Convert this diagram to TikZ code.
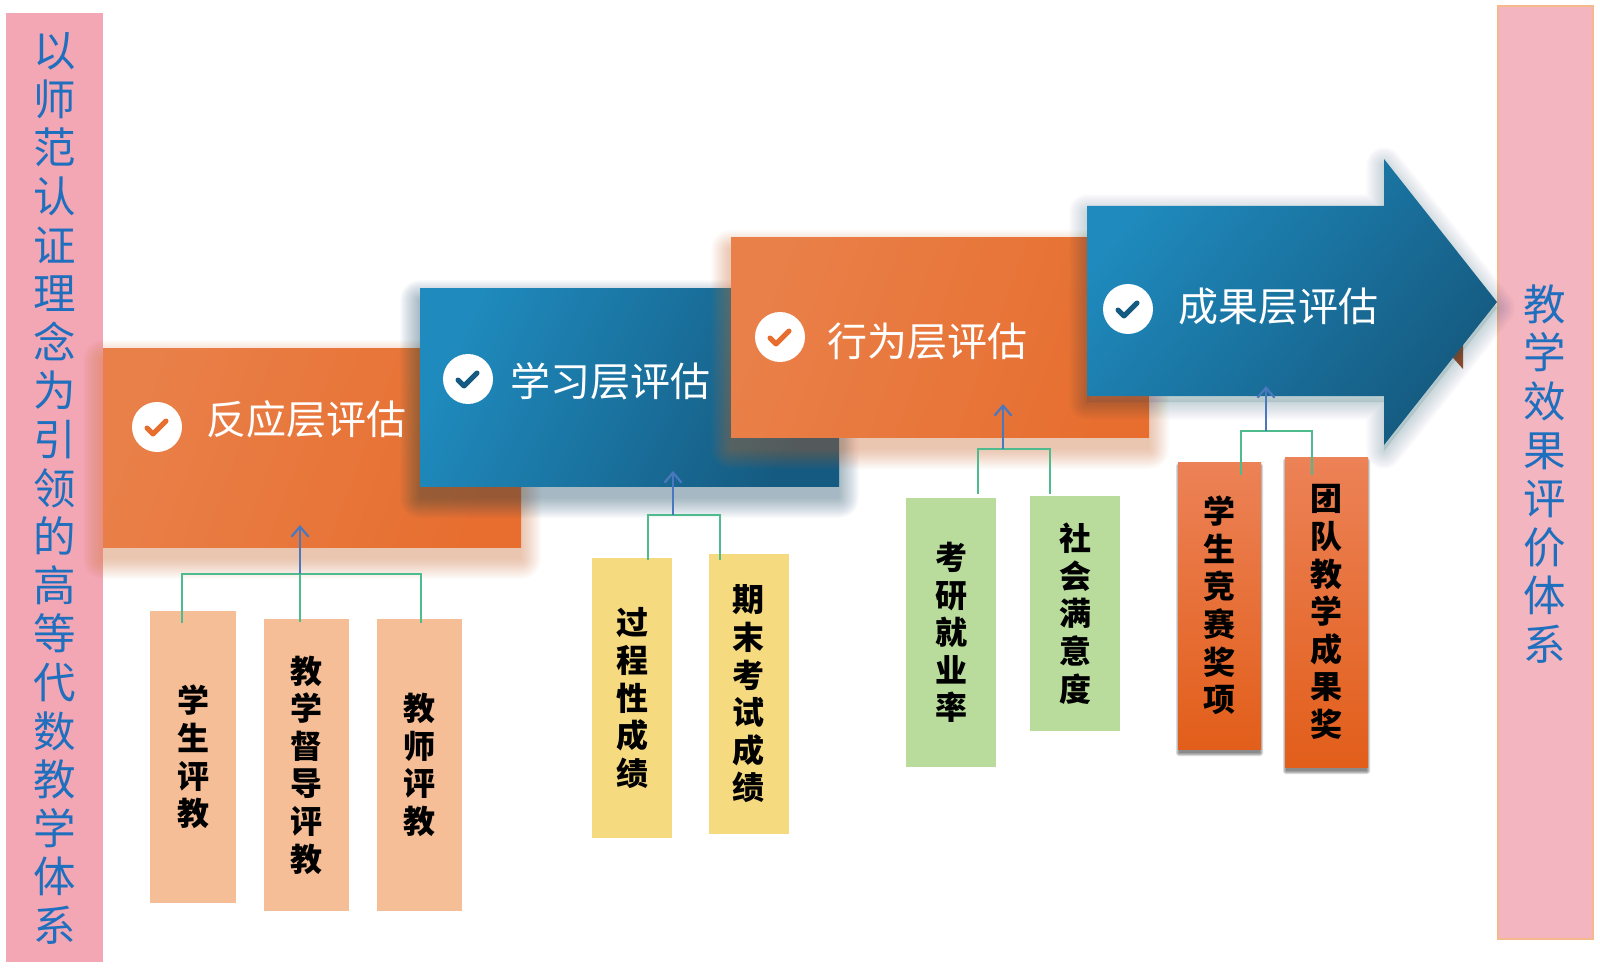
\documentclass[tikz,border=0pt]{standalone}
\usepackage{fontspec}
\setmainfont{Noto Sans CJK SC}
\usetikzlibrary{arrows.meta}
\definecolor{orA}{HTML}{E98049}
\definecolor{orB}{HTML}{E76E2F}
\definecolor{blA}{HTML}{1F8ABD}
\definecolor{blB}{HTML}{155A80}
\definecolor{txtblue}{HTML}{1F6FBF}
\definecolor{linkgreen}{HTML}{4DBB8E}
\definecolor{linkblue}{HTML}{4A78BE}
\definecolor{peach}{HTML}{F5BE96}
\definecolor{sand}{HTML}{F6DA80}
\definecolor{leaf}{HTML}{B9DC9C}
\definecolor{pinkL}{HTML}{F3A6B3}
\definecolor{pinkR}{HTML}{F3B5C0}
\definecolor{pinkE}{HTML}{F6B98C}
\definecolor{brownbit}{HTML}{A0522D}
\definecolor{awardA}{HTML}{EC8257}
\definecolor{awardM}{HTML}{EF6B26}
\definecolor{awardB}{HTML}{E25E1A}
\tikzset{
  stage/.style={minimum width=#1,inner sep=0pt,outer sep=0pt,draw=none},
  orangestage/.style={left color=orA,right color=orB,shading angle=70},
  bluestage/.style={left color=blA,right color=blB,shading angle=65},
  stagetext/.style={text=white,font=\fontsize{40}{40}\selectfont,inner sep=0pt},
  tick/.style={circle,fill=white,minimum size=50pt,inner sep=0pt},
  leafbox/.style={minimum width=#1,inner sep=0pt,outer sep=0pt,align=center,
     font=\bfseries\fontsize{32}{37.6}\selectfont,text=black},
  sidetext/.style={text=txtblue,align=center,inner sep=0pt,
     font=\fontsize{42.5}{48.6}\selectfont},
  bracket/.style={draw=linkgreen,line width=2pt},
  riser/.style={draw=linkblue,line width=2.2pt,-{Straight Barb[length=10pt,width=17pt,line width=2.2pt]}},
}
% soft shadow of a rectangle: x1,y1,x2,y2,colour,offset,maxgrow,opacity
\newcommand{\softrect}[8]{%
  \foreach \k in {0,...,#7}{%
    \fill[#5,opacity=#8,rounded corners=\k pt]
      (#1-\k,#2+#6-\k) rectangle (#3+\k,#4+#6+\k);}}
\newcommand{\checkmk}[2]{%
  \draw[#2,line width=5pt,line cap=round,line join=round]
    ([shift={(-10,1)}]#1.center) -- ++(6,6) -- ++(13,-13);}
\begin{document}
\begin{tikzpicture}[x=1pt,y=-1pt]
\useasboundingbox (0,0) rectangle (1600,968);
\fill[white] (0,0) rectangle (1600,968);

% side columns
\node[fill=pinkL,minimum width=97pt,minimum height=949pt,inner sep=0pt] (leftcol) at (54.5,487.5) {};
\node[fill=pinkR,draw=pinkE,line width=2pt,minimum width=95pt,minimum height=932pt,inner sep=0pt] (rightcol) at (1545,472.5) {};
\node[sidetext] (lefttext) at (54.5,488.5) {以\\师\\范\\认\\证\\理\\念\\为\\引\\领\\的\\高\\等\\代\\数\\教\\学\\体\\系};
\node[sidetext] (righttext) at (1545,474) {教\\学\\效\\果\\评\\价\\体\\系};

% stage 1
\softrect{103}{348}{521}{547}{orB}{12}{20}{0.018}
\node[stage=418pt,minimum height=199pt,orangestage] (box1) at (312,447.5) {};
\node[tick] (c1) at (157,427) {};
\checkmk{c1}{orB}
\node[stagetext] (t1) at (306,419) {反应层评估};

% stage 2
\softrect{420}{288}{839}{486}{blB!80!black}{12}{20}{0.018}
\node[stage=419pt,minimum height=198pt,bluestage] (box2) at (629.5,387) {};
\node[tick] (c2) at (468,379) {};
\checkmk{c2}{blB}
\node[stagetext] (t2) at (610,381) {学习层评估};

% stage 3
\softrect{731}{238}{1149}{437}{orB}{12}{20}{0.018}
\node[stage=418pt,minimum height=199pt,orangestage] (box3) at (940,337.5) {};
\node[tick] (c3) at (780,337) {};
\checkmk{c3}{orB}
\node[stagetext] (t3) at (927,341) {行为层评估};

% small brown sliver behind arrow head
\fill[brownbit] (1463,342) -- (1463,369) -- (1446,350) -- cycle;

% stage 4 arrow
\fill[blB!80!black,opacity=0.12]
   (1087,206+6) -- (1384,206+6) -- (1384,159+6) -- (1497,302+6) -- (1384,445+6) -- (1384,396+6) -- (1087,396+6) -- cycle;
\foreach \w in {2,4,...,36}{%
  \draw[blB!80!black,line width=\w pt,opacity=0.012,line join=round]
   (1087,206+6) -- (1384,206+6) -- (1384,159+6) -- (1497,302+6) -- (1384,445+6) -- (1384,396+6) -- (1087,396+6) -- cycle;}
\shade[left color=blA,right color=blB,shading angle=50]
   (1087,206) -- (1384,206) -- (1384,159) -- (1497,302) -- (1384,445) -- (1384,396) -- (1087,396) -- cycle;
\node[tick] (c4) at (1128,309) {};
\checkmk{c4}{blB}
\node[stagetext] (t4) at (1278,306) {成果层评估};

% leaf boxes group 1
\node[leafbox=86pt,minimum height=292pt,fill=peach] (a1) at (193,757) {学\\生\\评\\教};
\node[leafbox=85pt,minimum height=292pt,fill=peach] (a2) at (306.5,765) {教\\学\\督\\导\\评\\教};
\node[leafbox=85pt,minimum height=292pt,fill=peach] (a3) at (419.5,765) {教\\师\\评\\教};
% group 2
\node[leafbox=80pt,minimum height=280pt,fill=sand] (b1) at (632,698) {过\\程\\性\\成\\绩};
\node[leafbox=80pt,minimum height=280pt,fill=sand] (b2) at (748.5,694) {期\\末\\考\\试\\成\\绩};
% group 3
\node[leafbox=90pt,minimum height=269pt,fill=leaf] (d1) at (951,632.5) {考\\研\\就\\业\\率};
\node[leafbox=90pt,minimum height=235pt,fill=leaf] (d2) at (1075,613.5) {社\\会\\满\\意\\度};
% group 4
\softrect{1179}{462}{1260}{749}{black}{4}{3}{0.14}
\softrect{1286}{457}{1367}{767}{black}{4}{3}{0.14}
\node[leafbox=83pt,minimum height=287pt,top color=awardA,middle color=awardM,bottom color=awardB] (e1) at (1219.5,605.5) {学\\生\\竞\\赛\\奖\\项};
\node[leafbox=83pt,minimum height=310pt,top color=awardA,middle color=awardM,bottom color=awardB] (e2) at (1326.5,612) {团\\队\\教\\学\\成\\果\\奖};

% connectors
\coordinate (ja) at (300,574); \coordinate (ta) at (300,525);
\coordinate (a1e) at (182,623); \coordinate (a2e) at (300,622); \coordinate (a3e) at (421,623);
\draw[bracket] (a1e) |- (ja) -| (a3e);
\draw[bracket] (a2e) -- (ja);
\draw[riser] (ja) -- (ta);

\coordinate (jb) at (673,515); \coordinate (tb) at (673,471);
\coordinate (b1e) at (648,560); \coordinate (b2e) at (720,560);
\draw[bracket] (b1e) |- (jb) -| (b2e);
\draw[riser] (jb) -- (tb);

\coordinate (jd) at (1003,449); \coordinate (td) at (1003,404);
\coordinate (d1e) at (978,494); \coordinate (d2e) at (1050,494);
\draw[bracket] (d1e) |- (jd) -| (d2e);
\draw[riser] (jd) -- (td);

\coordinate (je) at (1266,431); \coordinate (te) at (1266,386);
\coordinate (e1e) at (1241,475); \coordinate (e2e) at (1312,475);
\draw[bracket] (e1e) |- (je) -| (e2e);
\draw[riser] (je) -- (te);
\end{tikzpicture}
\end{document}
